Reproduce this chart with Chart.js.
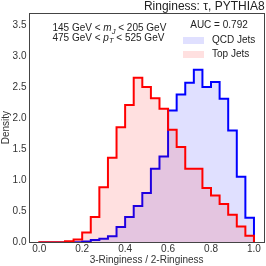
<!DOCTYPE html>
<html>
<head>
<meta charset="utf-8">
<script src="https://cdn.jsdelivr.net/npm/chart.js@4/dist/chart.umd.min.js"></script>
<style>
html,body{margin:0;padding:0;background:#fff;}
#wrap{width:266px;height:266px;}
</style>
</head>
<body>
<div id="wrap"><canvas id="c" width="266" height="266"></canvas></div>
<script>
// ---- data ----
const binEdges = [0.00,0.04,0.08,0.12,0.16,0.20,0.24,0.28,0.32,0.36,0.40,0.44,0.48,0.52,0.56,0.60,0.64,0.68,0.72,0.76,0.80,0.84,0.88,0.92,0.96,1.00];
const qcdDensity = [0,0,0,0,0.003,0.015,0.04,0.06,0.10,0.25,0.41,0.59,0.80,1.19,1.39,2.13,2.39,2.58,2.79,2.51,2.59,2.32,1.81,1.06,0.40];
const topDensity = [0.005,0.005,0.005,0.02,0.05,0.16,0.41,0.89,1.37,1.86,2.22,2.66,2.51,2.33,2.16,1.82,1.54,1.19,1.19,0.88,0.76,0.62,0.45,0.26,0.11];
const xTicks = [0.0,0.2,0.4,0.6,0.8,1.0];
const yTicks = [0.0,0.5,1.0,1.5,2.0,2.5,3.0,3.5];
const seriesNames = ['QCD Jets','Top Jets'];
const titleText = 'Ringiness: \u03C4, PYTHIA8';
const xLabel = '3-Ringiness / 2-Ringiness';
const yLabel = 'Density';
const aucText = 'AUC = 0.792';

function stepPoints(edges, vals){
  const pts = [{x: edges[0], y: 0}];
  vals.forEach((v,i)=>pts.push({x: edges[i], y: v}));
  pts.push({x: edges[edges.length-1], y: 0});
  return pts;
}

const FONT = "'Liberation Sans', Arial, sans-serif";
Chart.defaults.font.family = FONT;

const BLUE_FILL = 'rgba(0,0,255,0.12)';
const RED_FILL = 'rgba(255,0,0,0.12)';

const overlay = {
  id: 'overlay',
  afterDatasetsDraw(chart){
    const ctx = chart.ctx, a = chart.chartArea;
    ctx.save();
    // frame
    ctx.strokeStyle = '#444';
    ctx.lineWidth = 1;
    ctx.strokeRect(Math.round(a.left)+0.5, Math.round(a.top)+0.5, Math.round(a.right-a.left)-1, Math.round(a.bottom-a.top)-1);
    // annotation text
    ctx.fillStyle = '#222';
    ctx.textBaseline = 'alphabetic';
    function drawRich(parts, x, y){
      let cx = x;
      parts.forEach(p=>{
        const size = p.sub ? 7.5 : 10;
        ctx.font = (p.it ? 'italic ' : '') + size + 'px ' + FONT;
        ctx.fillText(p.t, cx, y + (p.sub ? 2.5 : 0));
        cx += ctx.measureText(p.t).width;
      });
    }
    drawRich([{t:'145 GeV < '},{t:'m',it:true},{t:'J',it:true,sub:true},{t:' < 205 GeV'}], 52.5, 31);
    drawRich([{t:'475 GeV < '},{t:'p',it:true},{t:'T',it:true,sub:true},{t:' < 525 GeV'}], 52.5, 40.5);
    // legend
    ctx.font = '10px ' + FONT;
    ctx.textAlign = 'center';
    ctx.textBaseline = 'middle';
    ctx.fillText(aucText, 219, 25);
    ctx.textAlign = 'left';
    const rows = [{name: seriesNames[0], fill: BLUE_FILL, y: 40.5},{name: seriesNames[1], fill: RED_FILL, y: 54.5}];
    rows.forEach(r=>{
      ctx.fillStyle = r.fill;
      ctx.fillRect(183, r.y-3.5, 21, 7);
      ctx.fillStyle = '#222';
      ctx.fillText(r.name, 212, r.y);
    });
    ctx.restore();
  }
};

new Chart(document.getElementById('c'), {
  type: 'line',
  data: {
    datasets: [
      { label: seriesNames[1], data: stepPoints(binEdges, topDensity), stepped: true,
        borderColor: '#ff0000', backgroundColor: RED_FILL, borderWidth: 2, fill: 'origin',
        pointRadius: 0, borderJoinStyle: 'miter', tension: 0 },
      { label: seriesNames[0], data: stepPoints(binEdges, qcdDensity), stepped: true,
        borderColor: '#0000ff', backgroundColor: BLUE_FILL, borderWidth: 2, fill: 'origin',
        pointRadius: 0, borderJoinStyle: 'miter', tension: 0 }
    ]
  },
  options: {
    responsive: false,
    animation: false,
    devicePixelRatio: 1,
    layout: { padding: { left: 0, right: 1.3, top: 0, bottom: 0 } },
    plugins: {
      legend: { display: false },
      tooltip: { enabled: false },
      title: { display: true, text: titleText, align: 'end', color: '#222',
               font: { size: 12, weight: 'normal', lineHeight: 1 }, padding: { top: 0.7, bottom: 0 } }
    },
    scales: {
      x: {
        type: 'linear', min: -0.05, max: 1.05,
        afterBuildTicks: s => { s.ticks = xTicks.map(v => ({ value: v })); },
        afterFit: s => { s.height = 23.5; },
        ticks: { callback: v => Number(v).toFixed(1), font: { size: 10 }, color: '#333', padding: 0.5, maxRotation: 0, autoSkip: false },
        grid: { display: false, drawTicks: false },
        border: { display: false },
        title: { display: true, text: xLabel, font: { size: 10 }, color: '#333', padding: { top: 0, bottom: 0 } }
      },
      y: {
        min: 0, max: 3.71,
        afterBuildTicks: s => { s.ticks = yTicks.map(v => ({ value: v })); },
        afterFit: s => { s.width = 28.5; },
        ticks: { callback: v => Number(v).toFixed(1), font: { size: 10 }, color: '#333', padding: 2, autoSkip: false },
        grid: { display: false, drawTicks: false },
        border: { display: false },
        title: { display: true, text: yLabel, font: { size: 10 }, color: '#333', padding: { top: 0, bottom: 0 } }
      }
    }
  },
  plugins: [overlay]
});
</script>
</body>
</html>
